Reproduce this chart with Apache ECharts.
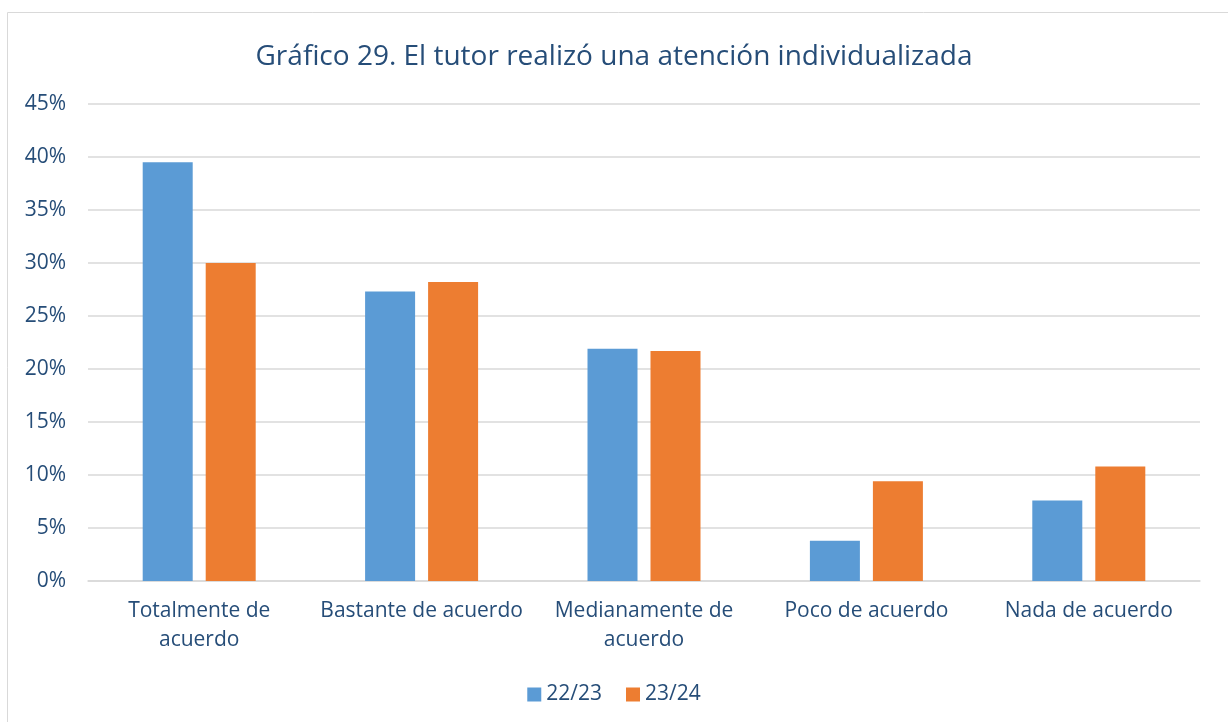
<!DOCTYPE html>
<html>
<head>
<meta charset="utf-8">
<script src="https://cdn.jsdelivr.net/npm/echarts@6/dist/echarts.min.js"></script>
<style>
html,body{margin:0;padding:0;background:#fff;}
#chart{width:1228px;height:722px;}
</style>
</head>
<body>
<div id="chart"></div>
<script>
// datos
var categorias = ['Totalmente de\nacuerdo', 'Bastante de acuerdo', 'Medianamente de\nacuerdo', 'Poco de acuerdo', 'Nada de acuerdo'];
var serie2223 = [39.5, 27.3, 21.9, 3.8, 7.6];
var serie2324 = [30.0, 28.2, 21.7, 9.4, 10.8];
var ticksY = [0, 5, 10, 15, 20, 25, 30, 35, 40, 45];

var colorTexto = '#264d78';
var fuente = 'Open Sans';

var myChart = echarts.init(document.getElementById('chart'));
var option = {
	animation: false,
	textStyle: {fontFamily: fuente},
	graphic: [{
		type: 'rect',
		shape: {x: 7.5, y: 12.5, width: 1300, height: 800},
		style: {fill: 'none', stroke: '#d9d9d9', lineWidth: 1}
	}],
	title: {
		text: 'Gráfico 29. El tutor realizó una atención individualizada',
		left: 'center',
		top: 38,
		textStyle: {color: colorTexto, fontSize: 28, fontWeight: 'normal', fontFamily: fuente}
	},
	legend: {
		data: ['22/23', '23/24'],
		bottom: 12,
		left: 'center',
		itemWidth: 14,
		itemHeight: 14,
		itemGap: 24,
		icon: 'rect',
		textStyle: {color: colorTexto, fontSize: 21, fontFamily: fuente}
	},
	grid: {left: 88, right: 28, top: 104, bottom: 141, containLabel: false},
	xAxis: {
		type: 'category',
		data: categorias,
		axisTick: {show: false},
		axisLine: {lineStyle: {color: '#d9d9d9', width: 1.5}},
		axisLabel: {color: colorTexto, fontSize: 21, lineHeight: 29, margin: 16, fontFamily: fuente, interval: 0}
	},
	yAxis: {
		type: 'value',
		min: 0,
		max: 45,
		interval: 5,
		axisLine: {show: false},
		axisTick: {show: false},
		splitLine: {lineStyle: {color: '#d9d9d9', width: 1.5}},
		axisLabel: {
			color: colorTexto, fontSize: 21, margin: 22, fontFamily: fuente,
			formatter: function (v) { return ticksY.indexOf(v) >= 0 ? v + '%' : ''; }
		}
	},
	series: [{
		name: '22/23',
		type: 'bar',
		data: serie2223,
		barWidth: 50,
		barGap: '26%',
		itemStyle: {color: '#5b9bd5'}
	}, {
		name: '23/24',
		type: 'bar',
		data: serie2324,
		barWidth: 50,
		itemStyle: {color: '#ed7d31'}
	}]
};
myChart.setOption(option);
</script>
</body>
</html>
